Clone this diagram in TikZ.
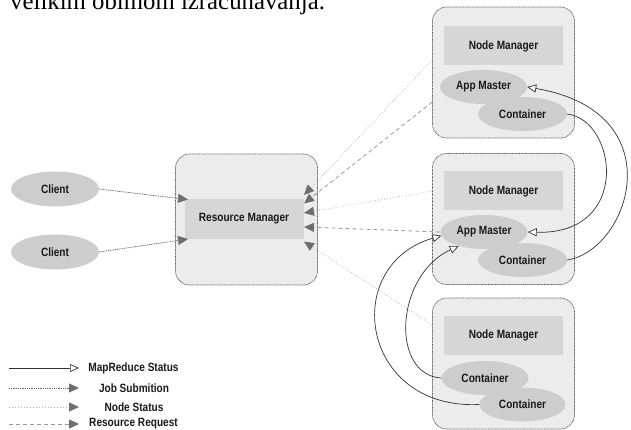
\documentclass[tikz,border=0pt]{standalone}
\usepackage{fontspec}
\newfontfamily\lblfont{Liberation Sans}[FakeStretch=0.84]
\newfontfamily\txtfont{Liberation Serif}
\usetikzlibrary{shapes.geometric,arrows.meta,calc}
\definecolor{boxfill}{HTML}{ECECEC}
\definecolor{boxline}{HTML}{5A5A5A}
\definecolor{rectfill}{HTML}{D6D6D6}
\definecolor{ellfill}{HTML}{CDCDCD}
\definecolor{tipcol}{HTML}{6E6E6E}
\definecolor{jobcol}{HTML}{6A6A6A}
\definecolor{nodecol}{HTML}{B4B4B4}
\definecolor{reqcol}{HTML}{9A9A9A}
\definecolor{mrcol}{HTML}{333333}
\definecolor{txtcol}{HTML}{1A1A1A}
\begin{document}
\begin{tikzpicture}[x=1pt,y=-1pt,
  lbl/.style={font=\lblfont\bfseries\fontsize{12}{14}\selectfont, text=txtcol},
  hostbox/.style={draw=boxline, line width=0.7pt, dash pattern=on 0.8pt off 0.6pt,
    rounded corners=14pt, fill=boxfill, minimum width=142pt, minimum height=131pt, inner sep=0pt},
  mgr/.style={lbl, fill=rectfill, minimum width=119pt, minimum height=39pt, inner sep=0pt},
  ell/.style={lbl, ellipse, fill=ellfill, minimum width=87pt, minimum height=34pt, inner sep=0pt},
  ftip/.style={-{Triangle[length=10pt,width=9pt,color=tipcol,fill=tipcol]}},
  jobline/.style={ftip, draw=jobcol, line width=0.8pt, dash pattern=on 1pt off 0.8pt},
  nodeline/.style={ftip, draw=nodecol, line width=0.8pt, dash pattern=on 0.8pt off 2.2pt},
  reqline/.style={ftip, draw=reqcol, line width=0.8pt, dash pattern=on 4pt off 3pt},
  mrline/.style={-{Triangle[open,length=9pt,width=8pt,fill=white]}, draw=mrcol, line width=0.7pt},
  legtxt/.style={lbl, anchor=center}
]
\useasboundingbox (0,0) rectangle (631,430);
\clip (0,0) rectangle (631,430);

% partially visible text line at the top
\node[font=\txtfont\fontsize{24.8}{28}\selectfont, anchor=base west, inner sep=0pt] (toptext) at (10,9.5) {velikim obimom izračunavanja.};

% Resource manager
\node[hostbox] (rmbox) at (246.5,219.5) {};
\node[mgr] (rm) at (244,219) {Resource Manager};

% Clients
\node[ell, minimum width=88pt, minimum height=35pt] (c1) at (55,189) {Client};
\node[ell, minimum width=88pt, minimum height=35pt] (c2) at (55,252) {Client};

% Node 1
\node[hostbox] (n1) at (503.5,72.5) {};
\node[mgr] (nm1) at (503.5,46) {Node Manager};
\node[ell] (am1) at (483.5,87) {App Master};
\node[ell, minimum width=89pt] (ct1) at (522.5,114) {Container};

% Node 2
\node[hostbox] (n2) at (503.5,219) {};
\node[mgr] (nm2) at (503.5,191) {Node Manager};
\node[ell] (am2) at (484,232) {App Master};
\node[ell, minimum width=89pt] (ct2) at (522.5,260) {Container};

% Node 3
\node[hostbox] (n3) at (503.5,363.5) {};
\node[mgr] (nm3) at (503.5,335.5) {Node Manager};
\node[ell] (ct3a) at (485,378) {Container};
\node[ell, minimum width=86pt] (ct3b) at (522.5,404.5) {Container};

% arrow tips on the resource manager
\coordinate (ra) at (188,199.5);
\coordinate (rb) at (188,239);
\coordinate (r1) at (304,195);
\coordinate (r2) at (304,203.5);
\coordinate (r3) at (304,213);
\coordinate (r4) at (304,227);
\coordinate (r5) at (304,241.5);

% job submission
\draw[jobline] (c1.east) -- (ra);
\draw[jobline] (c2.east) -- (rb);

% node status and resource requests
\draw[nodeline] ($(n1.west)+(0,-12.5)$) -- (r1);
\draw[reqline] ($(n1.west)+(0,29.5)$) -- (r2);
\draw[nodeline] ($(n2.west)+(0,-28)$) -- (r3);
\draw[reqline] (am2.west) -- (r4);
\draw[nodeline] ($(n3.west)+(0,-38.5)$) -- (r5);

% MapReduce status
\draw[mrline] (ct1.east) .. controls (617,120) and (632,235) .. (am2.east);
\draw[mrline] (ct2.east) .. controls (630,250) and (675,112) .. (am1.east);
\draw[mrline] (ct3b.west) .. controls (360,410) and (340,265) .. (am2.185);
\draw[mrline] (ct3a.west) .. controls (390,375) and (395,275) .. (am2.209);

% legend
\coordinate (l1a) at (9,368);   \coordinate (l1b) at (79,368);
\coordinate (l2a) at (9,388);   \coordinate (l2b) at (79,388);
\coordinate (l3a) at (9,407);   \coordinate (l3b) at (79,407);
\coordinate (l4a) at (9,424);   \coordinate (l4b) at (79,424);
\draw[mrline] (l1a) -- (l1b);
\draw[jobline] (l2a) -- (l2b);
\draw[nodeline] (l3a) -- (l3b);
\draw[reqline] (l4a) -- (l4b);
\node[legtxt] (t1) at (133.5,368) {MapReduce Status};
\node[legtxt] (t2) at (134,388) {Job Submition};
\node[legtxt] (t3) at (134,407) {Node Status};
\node[legtxt] (t4) at (133.5,424) {Resource Request};
\end{tikzpicture}
\end{document}
